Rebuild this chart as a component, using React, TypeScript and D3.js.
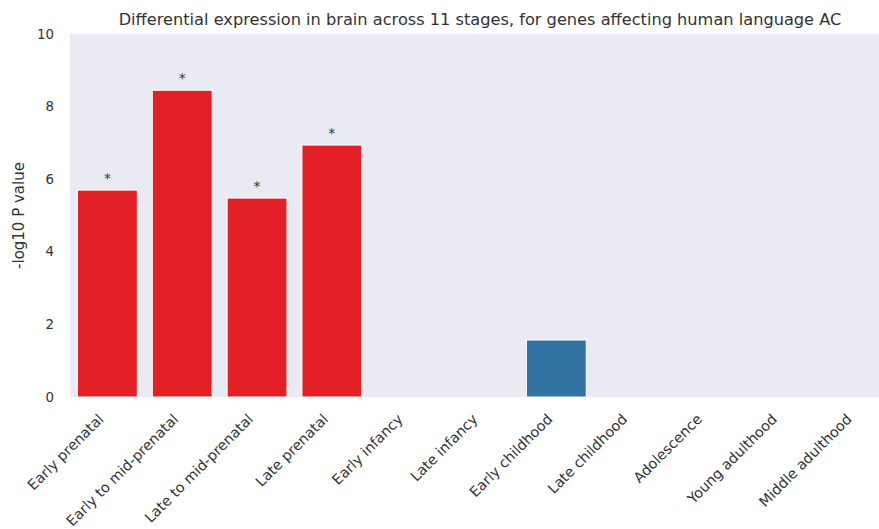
import React from "react";
import * as d3 from "d3";

const stages = [
  "Early prenatal",
  "Early to mid-prenatal",
  "Late to mid-prenatal",
  "Late prenatal",
  "Early infancy",
  "Late infancy",
  "Early childhood",
  "Late childhood",
  "Adolescence",
  "Young adulthood",
  "Middle adulthood",
];
const values = [5.7, 8.45, 5.48, 6.94, 0, 0, 1.57, 0, 0, 0, 0];
const significant = [true, true, true, true, false, false, false, false, false, false, false];
const yTicks = [0, 2, 4, 6, 8, 10];
const title = "Differential expression in brain across 11 stages, for genes affecting human language AC";
const yLabel = "-log10 P value";

const W = 879;
const H = 529;
const margin = { left: 70, top: 34, right: 893, bottom: 397 };
const FONT = "'DejaVu Sans', sans-serif";

export default function App() {
  const x = d3.scaleBand<string>().domain(stages).range([margin.left, margin.right]).paddingInner(0.2).paddingOuter(0.1);
  const y = d3.scaleLinear().domain([0, 10]).range([margin.bottom, margin.top]);

  return (
    <svg width={W} height={H} style={{ display: "block", position: "absolute", left: 0, top: 0 }} fontFamily={FONT}>
      <rect x={margin.left} y={margin.top} width={margin.right - margin.left} height={margin.bottom - margin.top} fill="#eaeaf2" />
      {stages.map((s, i) => {
        const v = values[i];
        if (v <= 0) return null;
        const color = significant[i] ? "#e31f26" : "#3274a1";
        return (
          <g key={s}>
            <rect x={x(s)!} y={y(v)} width={x.bandwidth()} height={y(0) - y(v)} fill={color} stroke="#ffffff" strokeWidth={1} />
            {significant[i] && (
              <text x={x(s)! + x.bandwidth() / 2} y={y(v) - 7} textAnchor="middle" fontSize={14} fill="#333333">*</text>
            )}
          </g>
        );
      })}
      {yTicks.map((t) => (
        <text key={t} x={margin.left - 16} y={y(t)} dy="0.35em" textAnchor="end" fontSize={13.3} fill="#333333">{t}</text>
      ))}
      {stages.map((s) => {
        const cx = x(s)! + x.bandwidth() / 2;
        return (
          <text key={s} transform={`translate(${cx - 10},${margin.bottom + 16}) rotate(-45)`} textAnchor="end" dy="0.7em" fontSize={14.3} fill="#333333">{s}</text>
        );
      })}
      <text transform={`translate(24,${(margin.top + margin.bottom) / 2}) rotate(-90)`} textAnchor="middle" fontSize={15} fill="#333333">{yLabel}</text>
      <text x={480} y={25} textAnchor="middle" fontSize={16.2} fill="#333333">{title}</text>
    </svg>
  );
}
